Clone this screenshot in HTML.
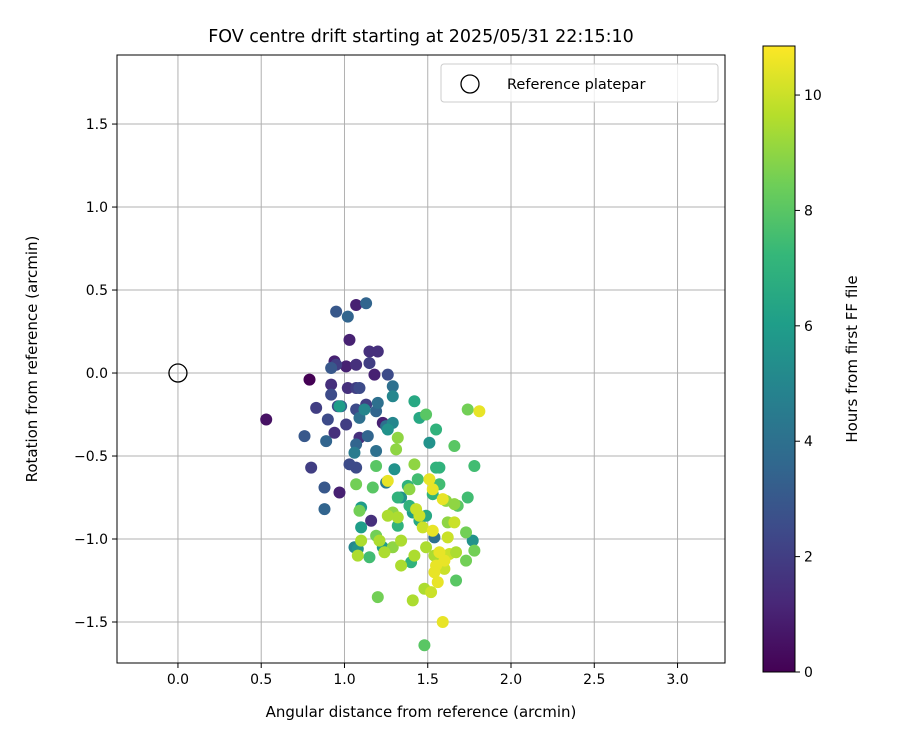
<!DOCTYPE html>
<html><head><meta charset="utf-8"><style>
body{margin:0;background:#fff;font-family:"Liberation Sans","DejaVu Sans",sans-serif}
svg text{font-family:"DejaVu Sans","Liberation Sans",sans-serif}
</style></head><body>
<svg id="c" width="900" height="750" viewBox="0 0 900 750">
<defs><linearGradient id="vg" x1="0" y1="1" x2="0" y2="0">
<stop offset="0" stop-color="#440154"/><stop offset="0.111" stop-color="#482878"/><stop offset="0.222" stop-color="#3e4989"/><stop offset="0.333" stop-color="#31688e"/><stop offset="0.444" stop-color="#26828e"/><stop offset="0.556" stop-color="#1f9e89"/><stop offset="0.667" stop-color="#35b779"/><stop offset="0.778" stop-color="#6ece58"/><stop offset="0.889" stop-color="#b5de2b"/><stop offset="1" stop-color="#fde725"/>
</linearGradient></defs>
<g id="grid"></g><g id="pts"></g><g id="axes"></g>
</svg>
<script>
const xs=[0.79,0.53,1.07,0.94,1.03,1.01,1.07,0.97,0.94,1.09,1.02,0.92,1.15,1.20,1.18,1.23,1.16,0.80,0.83,0.95,1.15,1.13,1.07,1.01,1.07,1.26,1.07,1.03,0.96,0.90,0.92,1.09,0.76,0.88,0.92,0.95,1.02,1.13,0.89,0.88,0.98,1.19,1.14,1.07,1.29,1.25,1.09,1.20,1.19,1.06,1.25,1.54,1.06,1.12,1.29,1.29,1.26,1.30,1.51,1.34,1.41,1.77,1.08,0.97,1.10,1.10,1.23,1.42,1.45,1.55,1.53,1.39,1.45,1.49,1.32,1.38,1.32,1.57,1.40,1.44,1.55,1.57,1.74,1.78,1.66,1.49,1.15,1.17,1.19,1.07,1.19,1.09,1.20,1.67,1.68,1.74,1.73,1.78,1.73,1.48,1.62,1.66,1.61,1.39,1.32,1.31,1.42,1.29,1.32,1.26,1.41,1.29,1.21,1.24,1.34,1.08,1.10,1.34,1.42,1.47,1.49,1.54,1.48,1.52,1.45,1.63,1.60,1.67,1.66,1.62,1.53,1.51,1.53,1.59,1.26,1.81,1.56,1.55,1.60,1.54,1.59,1.57,1.43];
const ys=[-0.04,-0.28,0.41,0.07,0.20,0.04,0.05,-0.72,-0.36,-0.39,-0.09,-0.07,0.13,0.13,-0.01,-0.30,-0.89,-0.57,-0.21,0.05,0.06,-0.19,-0.09,-0.31,-0.22,-0.01,-0.57,-0.55,-0.20,-0.28,-0.13,-0.09,-0.38,-0.69,0.03,0.37,0.34,0.42,-0.41,-0.82,-0.20,-0.23,-0.38,-0.43,-0.08,-0.32,-0.27,-0.18,-0.47,-0.48,-0.66,-0.99,-1.05,-0.22,-0.14,-0.30,-0.34,-0.58,-0.42,-0.75,-0.84,-1.01,-1.06,-0.20,-0.81,-0.93,-1.05,-0.17,-0.27,-0.34,-0.73,-0.80,-0.89,-0.86,-0.92,-0.68,-0.75,-0.57,-1.14,-0.64,-0.57,-0.67,-0.75,-0.56,-0.44,-0.25,-1.11,-0.69,-0.56,-0.67,-0.98,-0.83,-1.35,-1.25,-0.80,-0.22,-0.96,-1.07,-1.13,-1.64,-0.90,-0.79,-0.77,-0.70,-0.39,-0.46,-0.55,-0.84,-0.87,-0.86,-1.37,-1.05,-1.01,-1.08,-1.16,-1.10,-1.01,-1.01,-1.10,-0.93,-1.05,-1.10,-1.30,-1.32,-0.86,-1.09,-1.18,-1.08,-0.90,-0.99,-0.95,-0.64,-0.70,-0.76,-0.65,-0.23,-1.26,-1.16,-1.13,-1.20,-1.50,-1.08,-0.82];
const hours=[0,0.5,1,1,1,1,1.5,1,1.5,1.5,1.5,1.5,1.5,1.5,1,1,1.5,2,2,2,2,2,2,2,2.5,2.5,2.5,2.5,2.5,2.5,2.5,2.5,3,3,3,3,3.5,3.5,3.5,3.5,3.5,3.5,3.5,3.5,4,4,4,4,4,4.5,4.5,4,5,5,5,5,5.5,5.5,5.5,5.5,6,5.5,5.5,6,6,6,6,6.5,6.5,7,7,7,6.5,6.5,7,7,7,7,7,7.5,7,7.5,7.5,7.5,8,8,7.5,8,8,8.5,8.5,8.5,8.5,8,8,8.5,8.5,8.5,8.5,8,9,9,9,9,9,9,9,9,9.5,9.5,9.5,9,9.5,9.5,9.5,9.5,9.5,9.5,9.5,10,9.5,9.5,9.5,10,10,10,10,9.5,10,10,10.5,10.5,10.5,10.5,10.5,10.5,10.5,10.5,10.5,10.5,10.5,10.5,10];
const xTicks=[0.0,0.5,1.0,1.5,2.0,2.5,3.0];
const yTicks=[-1.5,-1.0,-0.5,0.0,0.5,1.0,1.5];
const cTicks=[0,2,4,6,8,10];
const L=117,R=725,T=55,B=663,x0=-0.366,x1=3.285,y0=-1.747,y1=1.916,cMax=10.85;
const X=v=>L+(v-x0)/(x1-x0)*(R-L), Y=v=>B-(v-y0)/(y1-y0)*(B-T);
const CT=46,CB=672,CY=v=>CB-v/cMax*(CB-CT);
const vir=['#440154','#482878','#3e4989','#31688e','#26828e','#1f9e89','#35b779','#6ece58','#b5de2b','#fde725'];
function hex(h){return [1,3,5].map(i=>parseInt(h.substr(i,2),16));}
function cmap(v){let t=Math.max(0,Math.min(1,v/cMax))*9,i=Math.min(8,Math.floor(t)),f=t-i,a=hex(vir[i]),b=hex(vir[i+1]);return 'rgb('+a.map((c,k)=>Math.round(c+(b[k]-c)*f)).join(',')+')';}
const NS='http://www.w3.org/2000/svg';
function mk(p,tag,at,txt){const e=document.createElementNS(NS,tag);for(const k in at)e.setAttribute(k,at[k]);if(txt!=null)e.textContent=txt;p.appendChild(e);return e;}
const g=document.getElementById('grid'),P=document.getElementById('pts'),A=document.getElementById('axes');
xTicks.forEach(v=>{
 const l=mk(g,'line',{x1:X(v),x2:X(v),y1:T,y2:B,stroke:'#b0b0b0','stroke-width':1});
 
 
 mk(A,'line',{x1:X(v),x2:X(v),y1:B,y2:B+5,stroke:'#000'});
 const t=mk(A,'text',{x:X(v),y:B+21,'font-size':14,'text-anchor':'middle'},v.toFixed(1));
 
 
});
yTicks.forEach(v=>{
 const l=mk(g,'line',{x1:L,x2:R,y1:Y(v),y2:Y(v),stroke:'#b0b0b0','stroke-width':1});
 
 
 mk(A,'line',{x1:L-5,x2:L,y1:Y(v),y2:Y(v),stroke:'#000'});
 const t=mk(A,'text',{x:L-9,y:Y(v)+5,'font-size':14,'text-anchor':'end'},(v<0?'\u2212':'')+Math.abs(v).toFixed(1));
 
 
});
xs.forEach((v,i)=>{
 const c=mk(P,'circle',{cx:X(v),cy:Y(ys[i]),r:6,fill:cmap(hours[i])});
 
 
});
const ref=mk(P,'circle',{cx:X(0),cy:Y(0),r:9,fill:'none',stroke:'#000','stroke-width':1.3});


const fr=mk(A,'rect',{x:L,y:T,width:R-L,height:B-T,fill:'none',stroke:'#000','stroke-width':1});


const tt=mk(A,'text',{x:(L+R)/2,y:42,'font-size':17.5,'text-anchor':'middle'},'FOV centre drift starting at 2025/05/31 22:15:10');


const xt=mk(A,'text',{x:(L+R)/2,y:717,'font-size':15,'text-anchor':'middle'},'Angular distance from reference (arcmin)');


const yt=mk(A,'text',{x:0,y:0,'font-size':15,'text-anchor':'middle',transform:'translate(37,'+((T+B)/2)+') rotate(-90)'},'Rotation from reference (arcmin)');


const lg=mk(A,'rect',{x:441,y:64,width:277,height:38,rx:3,fill:'#fff','fill-opacity':0.8,stroke:'#ccc'});


mk(A,'circle',{cx:470,cy:84,r:9,fill:'none',stroke:'#000','stroke-width':1.3});
const lt=mk(A,'text',{x:507,y:89,'font-size':14.5},'Reference platepar');


const cb=mk(A,'rect',{x:763,y:CT,width:32,height:CB-CT,fill:'url(#vg)',stroke:'#000','stroke-width':1});


cTicks.forEach(v=>{
 mk(A,'line',{x1:795,x2:800,y1:CY(v),y2:CY(v),stroke:'#000'});
 const t=mk(A,'text',{x:804,y:CY(v)+5,'font-size':14},String(v));
 
 
});
const ct=mk(A,'text',{x:0,y:0,'font-size':15,'text-anchor':'middle',transform:'translate(857,'+((CT+CB)/2)+') rotate(-90)'},'Hours from first FF file');


</script>
</body></html>
